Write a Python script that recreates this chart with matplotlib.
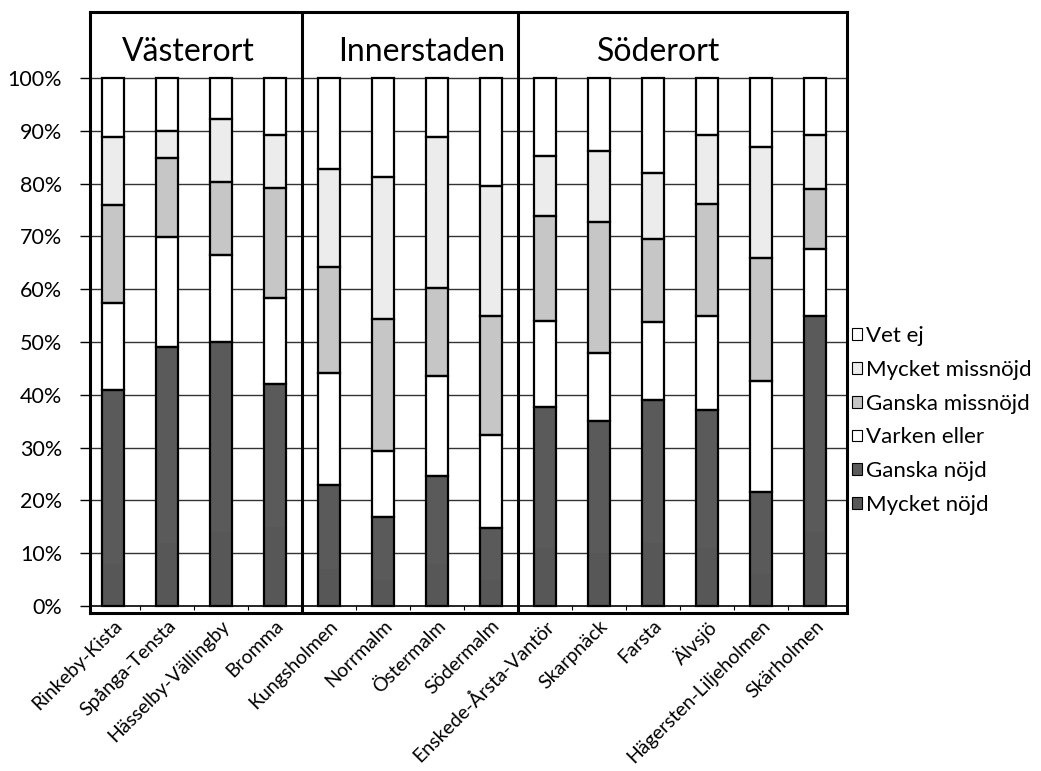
import numpy as np
import matplotlib.pyplot as plt
from matplotlib.patches import Patch

plt.rcParams['font.family'] = ['Lato', 'DejaVu Sans']

stadsdelar = ['Rinkeby-Kista', 'Spånga-Tensta', 'Hässelby-Vällingby', 'Bromma',
              'Kungsholmen', 'Norrmalm', 'Östermalm', 'Södermalm',
              'Enskede-Årsta-Vantör', 'Skarpnäck', 'Farsta', 'Älvsjö',
              'Hägersten-Liljeholmen', 'Skärholmen']
grupper = ['Västerort', 'Innerstaden', 'Söderort']
grupp_antal = [4, 4, 6]

# andelar i procent, nedifrån och upp
mycket_nojd = [8, 12, 14, 15, 7, 5, 8, 5, 11, 10, 12, 11, 6, 14]
ganska_nojd = [33, 37, 36, 27, 16, 11.8, 16.6, 9.8, 26.7, 25.1, 27.1, 26.1, 15.5, 41]
varken_eller = [16.4, 20.8, 16.4, 16.4, 21.2, 12.6, 19.0, 17.6, 16.3, 12.8, 14.6, 17.8, 21.2, 12.7]
ganska_missnojd = [18.6, 15.0, 14.0, 20.8, 20.0, 25.0, 16.6, 22.6, 19.9, 24.9, 15.9, 21.2, 23.3, 11.3]
mycket_missnojd = [12.9, 5.2, 11.9, 10.0, 18.6, 26.9, 28.6, 24.5, 11.3, 13.4, 12.5, 13.1, 21.0, 10.2]
vet_ej = [11.1, 10.0, 7.7, 10.8, 17.2, 18.7, 11.2, 20.5, 14.8, 13.8, 17.9, 10.8, 13.0, 10.8]

serier = [mycket_nojd, ganska_nojd, varken_eller, ganska_missnojd, mycket_missnojd, vet_ej]
namn = ['Mycket nöjd', 'Ganska nöjd', 'Varken eller', 'Ganska missnöjd',
        'Mycket missnöjd', 'Vet ej']
farger = ['#575757', '#5a5a5a', 'white', '#c6c6c6', '#ececec', 'white']

x = np.arange(len(stadsdelar))
w = 0.41

fig = plt.figure(figsize=(10.41, 7.71), dpi=100)
ax = fig.add_axes([0.0865, 0.2049, 0.8136 - 0.0865, 0.9844 - 0.2049])

# fyllning
bot = np.zeros(len(x))
for s, c in zip(serier, farger):
    s = np.array(s) / 100.
    ax.bar(x, s, w, bottom=bot, color=c, linewidth=0, zorder=3)
    bot += s

# konturer (de två nöjd-delarna som ett block)
nojd = (np.array(mycket_nojd) + np.array(ganska_nojd)) / 100.
delar = [nojd] + [np.array(s) / 100. for s in serier[2:]]
bot = np.zeros(len(x))
for d in delar:
    ax.bar(x, d, w, bottom=bot, fill=False, edgecolor='k', linewidth=1.6, zorder=4)
    bot += d

ax.set_xlim(-0.426, 13.59)
ax.set_ylim(-0.0133, 1.125)

for yv in np.arange(0.1, 1.01, 0.1):
    ax.axhline(yv, color='#333333', lw=1.0, zorder=1)
ax.axhline(0, color='k', lw=1.2, zorder=2)
ax.vlines(x[:-1] + 0.5, -0.008, 0, color='k', lw=0.8)

# gruppgränser och rubriker
grans = np.cumsum(grupp_antal)[:-1] - 0.5
for g in grans:
    ax.axvline(g, color='k', lw=2.2, zorder=5)
rubrik_x = [1.39, 5.72, 10.11]
for t, tx in zip(grupper, rubrik_x):
    ax.text(tx, 1.05, t, ha='center', va='center', fontsize=23)

for sp in ax.spines.values():
    sp.set_linewidth(2.2)

ax.set_yticks(np.arange(0, 1.01, 0.1))
ax.set_yticklabels(['{}%'.format(int(round(v * 100))) for v in np.arange(0, 1.01, 0.1)],
                   fontsize=15.5)
ax.tick_params(axis='y', length=7, width=1, pad=13)
ax.set_xticks(x)
ax.set_xticklabels(stadsdelar, rotation=45, ha='right', va='top',
                   rotation_mode='anchor', fontsize=14)
ax.tick_params(axis='x', length=0, pad=3)

handles = [Patch(facecolor=c, edgecolor='k', linewidth=0.8, label=n)
           for c, n in zip(farger, namn)][::-1]
fig.legend(handles=handles, loc='upper left', bbox_to_anchor=(0.799, 0.603),
           frameon=False, fontsize=16, handlelength=0.45, handleheight=0.45,
           handletextpad=0.2, labelspacing=0.62)

plt.savefig('out.png', dpi=100)
